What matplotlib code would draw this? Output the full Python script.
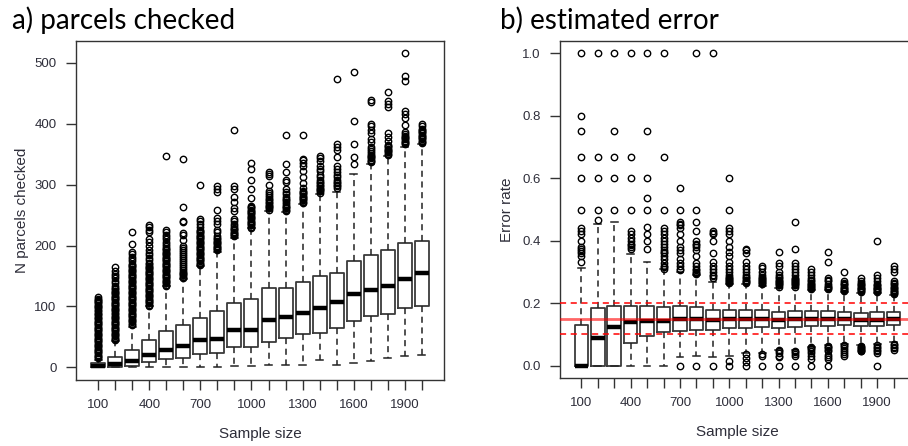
import matplotlib
matplotlib.use("Agg")
import matplotlib.pyplot as plt

# ----------------------------------------------------------------------------
# DATA
# ----------------------------------------------------------------------------
sample_sizes = [100, 200, 300, 400, 500, 600, 700, 800, 900, 1000,
                1100, 1200, 1300, 1400, 1500, 1600, 1700, 1800, 1900, 2000]

# a) parcels checked: lower whisker, q1, median, q3, upper whisker
parcels_whislo = [0, 0, 0, 0, 0, 0, 0, 0, 2, 2, 4, 4, 4, 13, 4, 8, 11, 16, 18, 20]
parcels_q1 = [0, 1, 3, 9, 14, 15, 22, 24, 33, 34, 42, 48, 55, 57, 64, 76, 85, 88, 97, 100]
parcels_med = [2, 6, 11, 21, 28, 35, 45, 47, 61, 62, 78, 83, 90, 97, 107, 121, 127, 133, 145, 155]
parcels_q3 = [7, 17, 29, 45, 59, 70, 81, 92, 106, 112, 130, 131, 141, 150, 155, 174, 184, 192, 204, 208]
parcels_whishi = [13, 43, 66, 100, 133, 145, 166, 190, 213, 228, 257, 255, 268, 285, 288, 318, 334, 347, 362, 366]
parcels_out = [
    [15, 17, 19, 21, 23, 25, 27, 29, 31, 33, 35, 37, 39, 41, 43, 45, 47, 49, 51, 53, 55, 57, 59, 61,
     63, 65, 67, 69, 71, 73, 75, 77, 79, 81, 83, 86, 88, 90, 92, 95, 97, 99, 101, 103, 105, 107, 109,
     111, 113, 115],
    [45, 47, 49, 51, 53, 55, 57, 59, 61, 63, 65, 67, 69, 71, 73, 75, 77, 79, 81, 83, 85, 87, 90, 92,
     94, 96, 98, 100, 102, 104, 106, 108, 110, 112, 114, 116, 118, 120, 122, 124, 126, 128, 130, 134,
     138, 142, 146, 150, 154, 158, 164],
    [70, 72, 74, 76, 78, 80, 82, 84, 86, 88, 90, 92, 94, 96, 98, 100, 102, 104, 106, 108, 110, 112,
     114, 116, 118, 120, 122, 124, 126, 128, 130, 132, 134, 136, 138, 140, 142, 144, 146, 148, 150,
     152, 154, 156, 158, 160, 162, 164, 166, 168, 170, 174, 178, 182, 186, 190, 203, 222],
    [101, 103, 105, 107, 109, 111, 113, 115, 117, 119, 121, 123, 125, 127, 129, 131, 133, 135, 137,
     139, 141, 143, 145, 147, 149, 151, 153, 155, 157, 159, 161, 163, 165, 167, 169, 172, 176, 180,
     184, 188, 192, 200, 206, 210, 222, 226, 230, 233],
    [134, 136, 138, 140, 142, 144, 146, 148, 150, 152, 154, 156, 158, 160, 162, 164, 166, 168, 170,
     172, 174, 176, 178, 180, 182, 184, 186, 188, 190, 192, 194, 196, 199, 202, 206, 210, 214, 218,
     222, 225, 347],
    [147, 149, 151, 153, 155, 157, 160, 163, 166, 170, 173, 176, 180, 183, 186, 190, 193, 196, 200,
     209, 218, 221, 239, 241, 263, 342],
    [168, 170, 172, 174, 176, 178, 180, 182, 184, 186, 188, 190, 192, 194, 196, 198, 200, 202, 204,
     206, 208, 210, 212, 214, 216, 218, 220, 222, 224, 226, 230, 236, 240, 243, 300],
    [192, 194, 196, 198, 200, 202, 204, 206, 208, 210, 212, 215, 222, 226, 236, 240, 245, 258, 288,
     292, 297],
    [215, 217, 219, 221, 223, 225, 227, 229, 232, 236, 240, 244, 256, 262, 272, 280, 292, 298, 390],
    [229, 231, 233, 235, 237, 239, 241, 243, 245, 247, 249, 251, 253, 255, 257, 259, 261, 263, 265,
     278, 292, 308, 326, 335],
    [259, 261, 263, 265, 267, 269, 271, 274, 277, 280, 283, 286, 290, 300, 314, 318, 320],
    [257, 259, 261, 263, 265, 268, 271, 274, 277, 280, 284, 288, 292, 305, 308, 320, 333, 382],
    [270, 272, 274, 276, 278, 280, 282, 284, 286, 288, 290, 294, 302, 312, 322, 330, 336, 340, 342, 382],
    [287, 289, 291, 293, 295, 297, 299, 302, 305, 308, 312, 316, 322, 326, 330, 338, 344, 347],
    [295, 297, 299, 302, 305, 308, 312, 316, 320, 326, 330, 346, 356, 362, 366, 473],
    [333, 346, 366, 404, 485],
    [337, 339, 341, 343, 345, 347, 349, 352, 355, 358, 362, 370, 375, 385, 390, 396, 400, 436, 438],
    [349, 351, 353, 355, 357, 359, 361, 363, 365, 372, 378, 384, 428, 433, 437, 452],
    [366, 368, 370, 372, 374, 376, 378, 380, 383, 386, 397, 410, 416, 420, 470, 478, 516],
    [368, 370, 372, 374, 376, 378, 380, 382, 384, 386, 388, 390, 392, 396, 400],
]

# b) estimated error
error_whislo = [0, 0, 0, 0, 0, 0, 0.027, 0.031, 0.027, 0.03, 0.04, 0.04, 0.05, 0.05, 0.06,
                0.066, 0.07, 0.066, 0.07, 0.075]
error_q1 = [0, 0, 0, 0.072, 0.095, 0.107, 0.112, 0.113, 0.113, 0.12, 0.12, 0.123, 0.12, 0.123,
            0.128, 0.128, 0.13, 0.127, 0.128, 0.13]
error_med = [0, 0.088, 0.125, 0.14, 0.143, 0.143, 0.15, 0.15, 0.147, 0.148, 0.15, 0.148, 0.147,
             0.148, 0.15, 0.15, 0.15, 0.147, 0.147, 0.15]
error_q3 = [0.13, 0.185, 0.19, 0.19, 0.19, 0.188, 0.19, 0.188, 0.178, 0.178, 0.178, 0.177, 0.17,
            0.175, 0.175, 0.175, 0.17, 0.168, 0.17, 0.17]
error_whishi = [0.313, 0.455, 0.46, 0.357, 0.333, 0.31, 0.3, 0.29, 0.267, 0.26, 0.26, 0.255, 0.25,
                0.25, 0.242, 0.242, 0.236, 0.232, 0.232, 0.226]
error_out = [
    [0.333, 0.35, 0.36, 0.367, 0.375, 0.38, 0.4, 0.42, 0.43, 0.44, 0.5, 0.6, 0.667, 0.75, 0.8, 1.0],
    [0.467, 0.5, 0.6, 0.667, 1.0],
    [0.5, 0.6, 0.667, 0.75, 1.0],
    [0.375, 0.38, 0.385, 0.39, 0.4, 0.41, 0.42, 0.43, 0.5, 0.6, 0.667, 1.0],
    [0.375, 0.4, 0.42, 0.444, 0.5, 0.538, 0.6, 0.75, 1.0],
    [0.31, 0.315, 0.32, 0.33, 0.34, 0.35, 0.36, 0.365, 0.37, 0.38, 0.39, 0.4, 0.41, 0.42, 0.43, 0.44,
     0.5, 0.667, 1.0],
    [0.0, 0.305, 0.31, 0.32, 0.33, 0.34, 0.36, 0.37, 0.38, 0.4, 0.42, 0.44, 0.45, 0.455, 0.46, 0.5, 0.57],
    [0.0, 0.293, 0.297, 0.3, 0.305, 0.31, 0.32, 0.33, 0.35, 0.37, 0.38, 0.385, 0.39, 0.4, 0.43, 0.46,
     0.5, 1.0],
    [0.0, 0.28, 0.286, 0.29, 0.3, 0.31, 0.32, 0.333, 0.36, 0.4, 0.42, 0.425, 0.43, 1.0],
    [0.0, 0.016, 0.263, 0.267, 0.27, 0.273, 0.277, 0.28, 0.285, 0.29, 0.3, 0.31, 0.32, 0.333, 0.35,
     0.364, 0.38, 0.4, 0.42, 0.43, 0.44, 0.5, 0.6],
    [0.0, 0.012, 0.025, 0.037, 0.263, 0.267, 0.27, 0.275, 0.28, 0.285, 0.29, 0.3, 0.31, 0.32, 0.333,
     0.36, 0.37, 0.375],
    [0.0, 0.031, 0.037, 0.26, 0.263, 0.267, 0.27, 0.273, 0.277, 0.28, 0.285, 0.29, 0.3, 0.313, 0.318],
    [0.0, 0.027, 0.032, 0.04, 0.045, 0.05, 0.253, 0.257, 0.26, 0.263, 0.267, 0.27, 0.275, 0.28, 0.285,
     0.29, 0.3, 0.32, 0.33, 0.364],
    [0.0, 0.03, 0.038, 0.042, 0.046, 0.253, 0.257, 0.26, 0.263, 0.267, 0.27, 0.273, 0.277, 0.28, 0.29,
     0.3, 0.31, 0.32, 0.33, 0.375, 0.46],
    [0.0, 0.02, 0.03, 0.04, 0.048, 0.052, 0.056, 0.06, 0.245, 0.248, 0.252, 0.255, 0.258, 0.262,
     0.265, 0.27, 0.275, 0.28, 0.29, 0.3, 0.31],
    [0.0, 0.02, 0.028, 0.035, 0.045, 0.05, 0.055, 0.06, 0.063, 0.245, 0.248, 0.252, 0.256, 0.26, 0.27,
     0.275, 0.28, 0.333, 0.364],
    [0.03, 0.036, 0.042, 0.05, 0.056, 0.062, 0.066, 0.24, 0.243, 0.246, 0.25, 0.253, 0.257, 0.26,
     0.265, 0.27, 0.3],
    [0.045, 0.048, 0.051, 0.054, 0.057, 0.06, 0.063, 0.235, 0.238, 0.241, 0.244, 0.247, 0.25, 0.254,
     0.258, 0.262, 0.266, 0.27, 0.28],
    [0.0, 0.04, 0.045, 0.05, 0.055, 0.06, 0.065, 0.235, 0.238, 0.241, 0.244, 0.247, 0.25, 0.254,
     0.258, 0.262, 0.27, 0.28, 0.29, 0.4],
    [0.05, 0.055, 0.06, 0.065, 0.07, 0.23, 0.233, 0.236, 0.24, 0.243, 0.247, 0.25, 0.255, 0.26, 0.265,
     0.27, 0.3, 0.31, 0.32],
]

true_error = 0.15
error_band = [0.1, 0.2]

# ----------------------------------------------------------------------------
# STYLE
# ----------------------------------------------------------------------------
plt.rcParams["font.family"] = ["Liberation Sans", "DejaVu Sans"]
text_col = "#2e2e3a"
line_col = "#333333"


def make_stats(lo, q1, med, q3, hi, out):
    return [dict(whislo=a, q1=b, med=c, q3=d, whishi=e, fliers=f)
            for a, b, c, d, e, f in zip(lo, q1, med, q3, hi, out)]


def draw_panel(ax, stats):
    pos = list(range(1, len(sample_sizes) + 1))
    ax.bxp(stats, positions=pos, widths=0.82, showfliers=True,
           boxprops=dict(color="#3a3a3a", linewidth=1.3),
           whiskerprops=dict(color="#222222", linewidth=1.1, linestyle=(0, (4, 3))),
           capprops=dict(color="#222222", linewidth=1.1),
           medianprops=dict(color="black", linewidth=3.2, solid_capstyle="butt"),
           flierprops=dict(marker="o", markerfacecolor="none", markeredgecolor="black",
                           markersize=4.6, markeredgewidth=1.0))
    ax.set_xlim(-0.3, len(sample_sizes) + 1.3)
    ax.set_xticks(pos)
    ax.set_xticklabels([str(s) if i % 3 == 0 else "" for i, s in enumerate(sample_sizes)])
    ax.tick_params(axis="both", length=7, width=1, color=line_col, labelcolor=text_col,
                   labelsize=9.5, pad=7)
    for sp in ax.spines.values():
        sp.set_color(line_col)
        sp.set_linewidth(1.0)
    ax.set_xlabel("Sample size", fontsize=11, color=text_col, labelpad=11)


fig = plt.figure(figsize=(9.08, 4.46), dpi=100)

# a) parcels checked
ax1 = fig.add_axes([76 / 908, 66 / 446, 368 / 908, 339 / 446])
draw_panel(ax1, make_stats(parcels_whislo, parcels_q1, parcels_med, parcels_q3,
                           parcels_whishi, parcels_out))
ax1.set_ylim(-20.6, 535.6)
ax1.set_yticks([0, 100, 200, 300, 400, 500])
ax1.set_ylabel("N parcels checked", fontsize=11, color=text_col, labelpad=4)

# b) estimated error
ax2 = fig.add_axes([560 / 908, 68 / 446, 355 / 908, 337 / 446])
draw_panel(ax2, make_stats(error_whislo, error_q1, error_med, error_q3,
                           error_whishi, error_out))
ax2.set_ylim(-0.04, 1.04)
ax2.set_yticks([0.0, 0.2, 0.4, 0.6, 0.8, 1.0])
ax2.set_yticklabels(["0.0", "0.2", "0.4", "0.6", "0.8", "1.0"])
ax2.set_ylabel("Error rate", fontsize=11, color=text_col, labelpad=5.5)
ax2.axhline(true_error, color="red", linewidth=2.0, alpha=0.6, zorder=5)
for b in error_band:
    ax2.axhline(b, color="red", linewidth=1.1, linestyle=(0, (4, 3)), zorder=5)

# panel titles
fig.text(12 / 908, 1 - 29 / 446, "a) parcels checked", fontsize=20, family=["Lato", "DejaVu Sans"],
         color="black", va="baseline", ha="left")
fig.text(500 / 908, 1 - 29 / 446, "b) estimated error", fontsize=20, family=["Lato", "DejaVu Sans"],
         color="black", va="baseline", ha="left")

fig.savefig("out.png", dpi=100)
plt.close(fig)
